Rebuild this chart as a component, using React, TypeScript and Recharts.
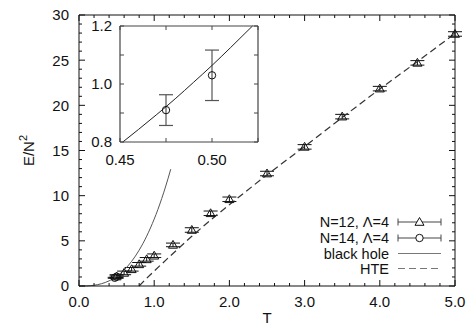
import React from 'react';
import { ComposedChart, Line, Scatter, XAxis, YAxis, ErrorBar, Legend, Label } from 'recharts';

// ---- data ----
const tempN12 = [0.5, 0.6, 0.7, 0.8, 0.9, 1.0, 1.25, 1.5, 1.75, 2.0, 2.5, 3.0, 3.5, 4.0, 4.5, 5.0];
const energyN12 = [1.05, 1.45, 1.85, 2.4, 2.95, 3.35, 4.55, 6.2, 8.05, 9.6, 12.45, 15.4, 18.75, 21.85, 24.7, 27.9];
const errN12 = [0.2, 0.2, 0.2, 0.2, 0.2, 0.2, 0.2, 0.25, 0.25, 0.25, 0.25, 0.25, 0.25, 0.25, 0.25, 0.25];

const tempN14 = [0.475, 0.5];
const energyN14 = [0.91, 1.03];
const errN14 = [0.053, 0.087];

const tempBH = [0, 0.1, 0.15, 0.2, 0.25, 0.3, 0.35, 0.4, 0.45, 0.5, 0.55, 0.6, 0.65, 0.7, 0.75, 0.8, 0.85, 0.9, 0.95, 1.0, 1.05, 1.1, 1.15, 1.22];
const energyBH = [0, 0.012, 0.037, 0.082, 0.153, 0.255, 0.392, 0.569, 0.792, 1.064, 1.389, 1.773, 2.218, 2.73, 3.31, 3.97, 4.7, 5.52, 6.42, 7.41, 8.49, 9.68, 10.96, 12.93];

const tempHTE = [0.8, 0.9, 1.0, 1.25, 1.5, 1.75, 2.0, 2.5, 3.0, 3.5, 4.0, 4.5, 5.0];
const energyHTE = [0, 0.85, 1.65, 3.6, 5.5, 7.3, 9.0, 12.3, 15.45, 18.65, 21.8, 24.85, 27.95];

const tempBHInset = [0.4515, 0.46, 0.47, 0.48, 0.49, 0.5, 0.51, 0.522];
const energyBHInset = [0.8, 0.843, 0.895, 0.949, 1.006, 1.064, 1.125, 1.2];

const xTicksMain = Array.from({ length: 26 }, (_, i) => +(i * 0.2).toFixed(1));
const yTicksMain = Array.from({ length: 31 }, (_, i) => i);
const xTicksInset = [0.45, 0.475, 0.5, 0.525];
const xLabelsInset = [0.45, 0.5];
const yTicksInset = [0.8, 0.9, 1.0, 1.1, 1.2];
const yLabelsInset = [0.8, 1.0, 1.2];

const legendLabels = ['N=12, \u039B=4', 'N=14, \u039B=4', 'black hole', 'HTE'];

const zip = (t: number[], e: number[], err?: number[]) =>
  t.map((T, i) => (err ? { T, E: e[i], err: err[i] } : { T, E: e[i] }));

const dataN12 = zip(tempN12, energyN12, errN12);
const dataN14 = zip(tempN14, energyN14, errN14);
const dataBH = zip(tempBH, energyBH);
const dataHTE = zip(tempHTE, energyHTE);
const dataBHInset = zip(tempBHInset, energyBHInset);

const FONT = '"Liberation Sans", Arial, Helvetica, sans-serif';
const TEXT = '#111';

type Side = 'bottom' | 'top' | 'left' | 'right';
const makeTick = (
  side: Side,
  isMajor: (v: number) => boolean,
  fmt: ((v: number) => string) | null,
  majorLen: number,
  minorLen: number,
  gap: number,
  stroke: string
) => (props: any) => {
  const { x, y, payload } = props;
  const v = payload.value as number;
  const major = isMajor(v);
  const len = major ? majorLen : minorLen;
  let l = [x, y, x, y];
  let text: React.ReactNode = null;
  if (side === 'bottom') {
    l = [x, y, x, y - len];
    if (major && fmt)
      text = (
        <text x={x} y={y + gap} textAnchor="middle" fontSize={15} fontFamily={FONT} fill={TEXT}>
          {fmt(v)}
        </text>
      );
  } else if (side === 'top') {
    l = [x, y, x, y + len];
  } else if (side === 'left') {
    l = [x, y, x + len, y];
    if (major && fmt)
      text = (
        <text x={x - gap} y={y} dy="0.36em" textAnchor="end" fontSize={15} fontFamily={FONT} fill={TEXT}>
          {fmt(v)}
        </text>
      );
  } else {
    l = [x, y, x - len, y];
  }
  return (
    <g>
      <line x1={l[0]} y1={l[1]} x2={l[2]} y2={l[3]} stroke={stroke} strokeWidth={1} />
      {text}
    </g>
  );
};

const isInt = (v: number) => Math.abs(v - Math.round(v)) < 1e-9;
const isMult5 = (v: number) => Math.abs(v / 5 - Math.round(v / 5)) < 1e-9;
const inList = (list: number[]) => (v: number) => list.some((a) => Math.abs(a - v) < 1e-9);

const Triangle = (props: any) => {
  const { cx, cy } = props;
  if (cx == null || cy == null) return null;
  return (
    <path
      d={`M${cx},${cy - 4.5} L${cx + 4.5},${cy + 3.3} L${cx - 4.5},${cy + 3.3} Z`}
      fill="none"
      stroke="#111"
      strokeWidth={1}
    />
  );
};
const Circle = (props: any) => {
  const { cx, cy } = props;
  if (cx == null || cy == null) return null;
  return <circle cx={cx} cy={cy} r={3.7} fill="none" stroke="#111" strokeWidth={1} />;
};

const LegendBox = () => {
  const rows = [11, 27, 42.5, 57.5];
  const x0 = 98;
  const x1 = 141;
  const xm = 119.5;
  return (
    <svg width={150} height={68} style={{ display: 'block', overflow: 'visible' }}>
      {legendLabels.map((t, i) => (
        <text key={t} x={89} y={rows[i]} dy="0.36em" textAnchor="end" fontSize={14.5} fontFamily={FONT} fill={TEXT}>
          {t}
        </text>
      ))}
      {[0, 1].map((i) => (
        <g key={i}>
          <line x1={x0} y1={rows[i]} x2={x1} y2={rows[i]} stroke="#444" />
          <line x1={x0} y1={rows[i] - 3.5} x2={x0} y2={rows[i] + 3.5} stroke="#444" />
          <line x1={x1} y1={rows[i] - 3.5} x2={x1} y2={rows[i] + 3.5} stroke="#444" />
          {i === 0 ? (
            <path d={`M${xm},${rows[i] - 4.5} L${xm + 4.5},${rows[i] + 3.3} L${xm - 4.5},${rows[i] + 3.3} Z`} fill="#fff" stroke="#111" />
          ) : (
            <circle cx={xm} cy={rows[i]} r={3.7} fill="#fff" stroke="#111" />
          )}
        </g>
      ))}
      <line x1={x0} y1={rows[2]} x2={x1} y2={rows[2]} stroke="#777" />
      <line x1={x0} y1={rows[3]} x2={x1 - 3} y2={rows[3]} stroke="#777" strokeDasharray="7 4" />
    </svg>
  );
};

export default function App() {
  return (
    <div style={{ position: 'absolute', left: 0, top: 0, width: 466, height: 328, background: '#fff' }}>
      <ComposedChart width={466} height={328} margin={{ top: 14, right: 10, bottom: 12, left: 19 }}>
        <XAxis
          xAxisId={0}
          type="number"
          dataKey="T"
          domain={[0, 5]}
          ticks={xTicksMain}
          interval={0}
          tickSize={0}
          tickMargin={0}
          height={30}
          axisLine={{ stroke: '#111' }}
          tickLine={false}
          tick={makeTick('bottom', isInt, (v) => v.toFixed(1), 6, 3, 21, '#111')}
        >
          <Label
            content={(p: any) => (
              <text x={p.viewBox.x + p.viewBox.width / 2} y={p.viewBox.y + 37} textAnchor="middle" fontSize={15} fontFamily={FONT} fill={TEXT}>
                T
              </text>
            )}
          />
        </XAxis>
        <XAxis
          xAxisId="top"
          orientation="top"
          type="number"
          dataKey="T"
          domain={[0, 5]}
          ticks={xTicksMain}
          interval={0}
          tickSize={0}
          tickMargin={0}
          height={1}
          axisLine={{ stroke: '#111' }}
          tickLine={false}
          tick={makeTick('top', isInt, null, 6, 3, 0, '#111')}
        />
        <YAxis
          yAxisId={0}
          type="number"
          dataKey="E"
          domain={[0, 30]}
          ticks={yTicksMain}
          interval={0}
          tickSize={0}
          tickMargin={0}
          width={60}
          axisLine={{ stroke: '#111' }}
          tickLine={false}
          tick={makeTick('left', isMult5, (v) => String(v), 6, 3, 10, '#111')}
        >
          <Label
            content={(p: any) => {
              const cx = p.viewBox.x + 15;
              const cy = p.viewBox.y + p.viewBox.height / 2;
              return (
                <text x={cx} y={cy} transform={`rotate(-90 ${cx} ${cy})`} textAnchor="middle" fontSize={15} fontFamily={FONT} fill={TEXT}>
                  E/N
                  <tspan dy={-7} fontSize={11}>
                    2
                  </tspan>
                </text>
              );
            }}
          />
        </YAxis>
        <YAxis
          yAxisId="right"
          orientation="right"
          type="number"
          dataKey="E"
          domain={[0, 30]}
          ticks={yTicksMain}
          interval={0}
          tickSize={0}
          tickMargin={0}
          width={1}
          axisLine={{ stroke: '#111' }}
          tickLine={false}
          tick={makeTick('right', isMult5, null, 6, 3, 0, '#111')}
        />
        <Scatter data={dataN12} dataKey="E" shape={<Triangle />} isAnimationActive={false}>
          <ErrorBar dataKey="err" direction="y" width={7} stroke="#111" strokeWidth={1} />
        </Scatter>
        <Scatter data={dataN14} dataKey="E" shape={<Circle />} isAnimationActive={false}>
          <ErrorBar dataKey="err" direction="y" width={7} stroke="#111" strokeWidth={1} />
        </Scatter>
        <Line data={dataBH} dataKey="E" type="monotone" stroke="#555" strokeWidth={1} dot={false} isAnimationActive={false} />
        <Line
          data={dataHTE}
          dataKey="E"
          xAxisId="top"
          yAxisId="right"
          type="monotone"
          stroke="#333"
          strokeWidth={1.2}
          strokeDasharray="7 4"
          dot={false}
          isAnimationActive={false}
        />
        <Legend
          layout="vertical"
          align="center"
          verticalAlign="middle"
          wrapperStyle={{ left: 300, top: 211, width: 150, height: 68 }}
          content={() => <LegendBox />}
        />
      </ComposedChart>

      <div style={{ position: 'absolute', left: 60, top: 10 }}>
        <ComposedChart width={200} height={170} margin={{ top: 15, right: 1, bottom: 8, left: 10 }}>
          <XAxis
            xAxisId={0}
            type="number"
            dataKey="T"
            domain={[0.45, 0.525]}
            ticks={xTicksInset}
            interval={0}
            tickSize={0}
            tickMargin={0}
            height={30}
            axisLine={{ stroke: '#444', strokeWidth: 1.2 }}
            tickLine={false}
            tick={makeTick('bottom', inList(xLabelsInset), (v) => v.toFixed(2), 4, 4, 23, '#444')}
          />
          <XAxis
            xAxisId="top"
            orientation="top"
            type="number"
            dataKey="T"
            domain={[0.45, 0.525]}
            ticks={xTicksInset}
            interval={0}
            tickSize={0}
            tickMargin={0}
            height={1}
            axisLine={{ stroke: '#444', strokeWidth: 1.2 }}
            tickLine={false}
            tick={makeTick('top', inList(xLabelsInset), null, 4, 4, 0, '#444')}
          />
          <YAxis
            yAxisId={0}
            type="number"
            dataKey="E"
            domain={[0.8, 1.2]}
            ticks={yTicksInset}
            interval={0}
            tickSize={0}
            tickMargin={0}
            width={50}
            axisLine={{ stroke: '#444', strokeWidth: 1.2 }}
            tickLine={false}
            tick={makeTick('left', inList(yLabelsInset), (v) => v.toFixed(1), 4, 4, 8, '#444')}
          />
          <YAxis
            yAxisId="right"
            orientation="right"
            type="number"
            dataKey="E"
            domain={[0.8, 1.2]}
            ticks={yTicksInset}
            interval={0}
            tickSize={0}
            tickMargin={0}
            width={1}
            axisLine={{ stroke: '#444', strokeWidth: 1.2 }}
            tickLine={false}
            tick={makeTick('right', inList(yLabelsInset), null, 4, 4, 0, '#444')}
          />
          <Scatter data={dataN14} dataKey="E" shape={<Circle />} isAnimationActive={false}>
            <ErrorBar dataKey="err" direction="y" width={7} stroke="#555" strokeWidth={1.2} />
          </Scatter>
          <Line
            data={dataBHInset}
            dataKey="E"
            xAxisId="top"
            yAxisId="right"
            type="monotone"
            stroke="#222"
            strokeWidth={1}
            dot={false}
            isAnimationActive={false}
          />
        </ComposedChart>
      </div>
    </div>
  );
}
